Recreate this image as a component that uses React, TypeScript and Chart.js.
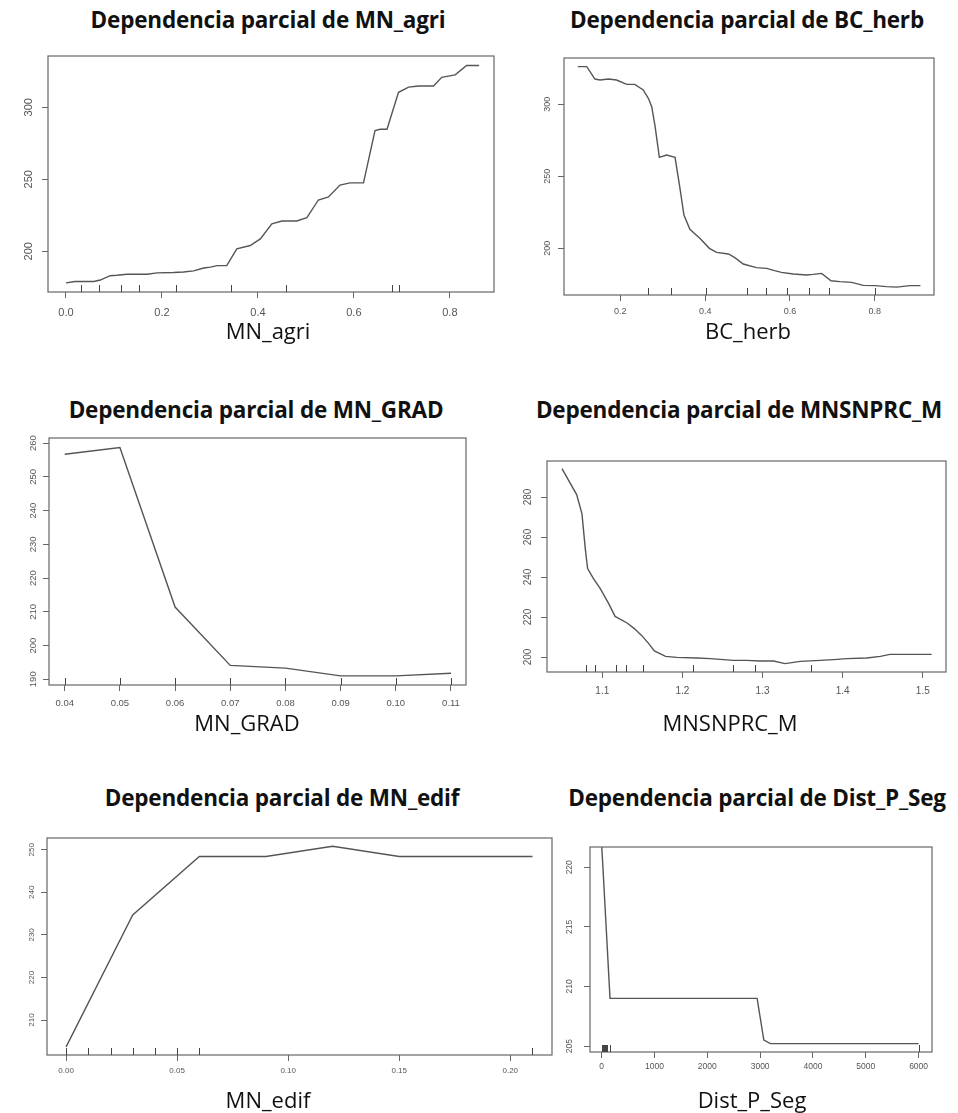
import React, { useEffect, useRef } from "react";
import { Chart, registerables } from "chart.js";

Chart.register(...registerables);

// ---------------- DATA ----------------
const mnAgriX = [0, 0.019, 0.058, 0.0715, 0.092, 0.106, 0.127, 0.169, 0.19, 0.224, 0.245, 0.266, 0.287, 0.301, 0.315, 0.335, 0.356, 0.384, 0.405, 0.429, 0.45, 0.481, 0.502, 0.526, 0.547, 0.571, 0.592, 0.62, 0.644, 0.655, 0.669, 0.693, 0.714, 0.735, 0.766, 0.783, 0.811, 0.835, 0.861];
const mnAgriY = [178, 179, 179, 180, 183, 183.3, 184, 184, 185, 185.2, 185.6, 186.4, 188.4, 189, 190, 190, 201.6, 204, 208.6, 219, 221, 221, 223.4, 235.6, 237.7, 246, 247.5, 247.5, 283.8, 284.7, 284.7, 310.4, 314, 314.8, 314.8, 320.8, 322.5, 329, 329];
const mnAgriRug = [0.031, 0.069, 0.115, 0.153, 0.229, 0.344, 0.459, 0.679, 0.693];
const mnAgriXTicks = [0, 0.2, 0.4, 0.6, 0.8];
const mnAgriYTicks = [200, 250, 300];

const bcHerbX = [0.0995, 0.1207, 0.14, 0.152, 0.172, 0.191, 0.215, 0.234, 0.254, 0.266, 0.274, 0.282, 0.292, 0.309, 0.329, 0.34, 0.35, 0.364, 0.388, 0.41, 0.427, 0.455, 0.47, 0.49, 0.521, 0.545, 0.564, 0.58, 0.608, 0.639, 0.655, 0.675, 0.697, 0.718, 0.746, 0.773, 0.801, 0.828, 0.852, 0.883, 0.908];
const bcHerbY = [326.2, 326.2, 317.6, 316.9, 317.6, 316.9, 313.9, 313.9, 310, 304.2, 298.4, 284.5, 263.2, 264.8, 263.2, 242.8, 223.1, 213.2, 206.9, 200, 197.2, 196.1, 193.5, 189.1, 186.6, 186.1, 184.5, 183.3, 182.2, 181.5, 181.9, 182.6, 177.5, 176.9, 176.4, 174.3, 174.1, 173.4, 173.1, 174.1, 174.1];
const bcHerbRug = [0.266, 0.319, 0.402, 0.498, 0.544, 0.593, 0.645, 0.693, 0.8];
const bcHerbXTicks = [0.2, 0.4, 0.6, 0.8];
const bcHerbYTicks = [200, 250, 300];

const mnGradX = [0.04, 0.05, 0.06, 0.07, 0.08, 0.09, 0.1, 0.11];
const mnGradY = [256.7, 258.7, 211.4, 194.1, 193.3, 191.0, 191.0, 191.8];
const mnGradRug = [0.04, 0.05, 0.06, 0.07, 0.08, 0.09, 0.1, 0.11];
const mnGradXTicks = [0.04, 0.05, 0.06, 0.07, 0.08, 0.09, 0.1, 0.11];
const mnGradYTicks = [190, 200, 210, 220, 230, 240, 250, 260];

const mnsnprcX = [1.0497, 1.068, 1.0746, 1.079, 1.0817, 1.089, 1.0975, 1.108, 1.116, 1.131, 1.14, 1.149, 1.158, 1.165, 1.179, 1.193, 1.218, 1.235, 1.251, 1.264, 1.28, 1.297, 1.314, 1.328, 1.347, 1.372, 1.389, 1.405, 1.43, 1.447, 1.459, 1.48, 1.511];
const mnsnprcY = [294.2, 281.2, 271.7, 253.3, 244.2, 239.2, 234.2, 226.7, 220.3, 217, 214.2, 210.8, 206.7, 203, 200.3, 199.8, 199.5, 199.2, 198.7, 198.3, 198.3, 198, 198, 196.7, 197.8, 198.3, 198.7, 199.2, 199.5, 200.3, 201.3, 201.3, 201.3];
const mnsnprcRug = [1.08, 1.091, 1.117, 1.13, 1.151, 1.213, 1.263, 1.291, 1.36];
const mnsnprcXTicks = [1.1, 1.2, 1.3, 1.4, 1.5];
const mnsnprcYTicks = [200, 220, 240, 260, 280];

const mnEdifX = [0, 0.03, 0.06, 0.09, 0.12, 0.15, 0.21];
const mnEdifY = [203.7, 234.7, 248.4, 248.4, 250.8, 248.4, 248.4];
const mnEdifRug = [0, 0.01, 0.02, 0.03, 0.04, 0.05, 0.06, 0.21];
const mnEdifXTicks = [0, 0.05, 0.1, 0.15, 0.2];
const mnEdifYTicks = [210, 220, 230, 240, 250];

const distX = [0, 20, 158, 2943, 3070, 3196, 6000];
const distY = [221.8, 220.3, 209.0, 209.0, 205.5, 205.2, 205.2];
const distRug = [0, 15, 30, 50, 70, 90, 110, 150, 6000];
const distXTicks = [0, 1000, 2000, 3000, 4000, 5000, 6000];
const distYTicks = [205, 210, 215, 220];

// ---------------- LAYOUT ----------------
type Panel = {
  title: string; tcx: number; tcy: number;
  xlab: string; lcx: number; lcy: number;
  xs: number[]; ys: number[]; rug: number[];
  xt: number[]; yt: number[]; xdec: number;
  box: { l: number; t: number; r: number; b: number };
  xr: [number, number]; yr: [number, number];
  fs: number; ylOff: number; xlOff: number;
};

const panels: Panel[] = [
  { title: "Dependencia parcial de MN_agri", tcx: 268, tcy: 19, xlab: "MN_agri", lcx: 268, lcy: 330,
    xs: mnAgriX, ys: mnAgriY, rug: mnAgriRug, xt: mnAgriXTicks, yt: mnAgriYTicks, xdec: 1,
    box: { l: 48, t: 56, r: 494, b: 292 }, xr: [-0.0375, 0.892], yr: [171.7, 335.6], fs: 11, ylOff: 19, xlOff: 21 },
  { title: "Dependencia parcial de BC_herb", tcx: 747, tcy: 19, xlab: "BC_herb", lcx: 748, lcy: 330,
    xs: bcHerbX, ys: bcHerbY, rug: bcHerbRug, xt: bcHerbXTicks, yt: bcHerbYTicks, xdec: 1,
    box: { l: 564, t: 58, r: 934, b: 295 }, xr: [0.067, 0.94], yr: [167.6, 332.2], fs: 9, ylOff: 16, xlOff: 17 },
  { title: "Dependencia parcial de MN_GRAD", tcx: 256, tcy: 409, xlab: "MN_GRAD", lcx: 247, lcy: 722,
    xs: mnGradX, ys: mnGradY, rug: mnGradRug, xt: mnGradXTicks, yt: mnGradYTicks, xdec: 2,
    box: { l: 49, t: 438, r: 466, b: 685 }, xr: [0.03715, 0.11272], yr: [188.3, 261.5], fs: 9.5, ylOff: 16, xlOff: 18 },
  { title: "Dependencia parcial de MNSNPRC_M", tcx: 739, tcy: 409, xlab: "MNSNPRC_M", lcx: 730, lcy: 722,
    xs: mnsnprcX, ys: mnsnprcY, rug: mnsnprcRug, xt: mnsnprcXTicks, yt: mnsnprcYTicks, xdec: 1,
    box: { l: 547, t: 461, r: 946, b: 672 }, xr: [1.031, 1.529], yr: [192.5, 298], fs: 10, ylOff: 19, xlOff: 19 },
  { title: "Dependencia parcial de MN_edif", tcx: 282, tcy: 797, xlab: "MN_edif", lcx: 268, lcy: 1099,
    xs: mnEdifX, ys: mnEdifY, rug: mnEdifRug, xt: mnEdifXTicks, yt: mnEdifYTicks, xdec: 2,
    box: { l: 47, t: 838, r: 552, b: 1055 }, xr: [-0.0086, 0.2188], yr: [201.8, 252.75], fs: 8, ylOff: 15, xlOff: 16 },
  { title: "Dependencia parcial de Dist_P_Seg", tcx: 757, tcy: 797, xlab: "Dist_P_Seg", lcx: 752, lcy: 1099,
    xs: distX, ys: distY, rug: distRug, xt: distXTicks, yt: distYTicks, xdec: 0,
    box: { l: 590, t: 847, r: 932, b: 1052 }, xr: [-221, 6254], yr: [204.5, 221.7], fs: 8.5, ylOff: 20, xlOff: 15 },
];

const TICK = 6;
const RUG = 7;
const INK = "#555555";

function PanelChart({ p }: { p: Panel }) {
  const ref = useRef<HTMLCanvasElement | null>(null);
  const padL = 45, padT = 6, YW = 30, XH = 34;
  const cx = p.box.l - padL;
  const cy = p.box.t - padT;
  const cw = p.box.r - p.box.l + padL + 14;
  const ch = p.box.b - p.box.t + padT + XH + 6;

  useEffect(() => {
    const canvas = ref.current!;
    const rPlot = {
      id: "rplot",
      afterDraw(chart: any) {
        const ctx = chart.ctx;
        const ca = chart.chartArea;
        const xs = chart.scales.x;
        const ys = chart.scales.y;
        ctx.save();
        ctx.strokeStyle = "#666666";
        ctx.lineWidth = 1.2;
        ctx.strokeRect(ca.left, ca.top, ca.right - ca.left, ca.bottom - ca.top);
        ctx.strokeStyle = "#444444";
        ctx.lineWidth = 1;
        for (const v of p.rug) {
          const px = Math.round(xs.getPixelForValue(v)) + 0.5;
          ctx.beginPath();
          ctx.moveTo(px, ca.bottom);
          ctx.lineTo(px, ca.bottom - RUG);
          ctx.stroke();
        }
        ctx.fillStyle = "#555555";
        ctx.font = `${p.fs}px "Liberation Sans", Arial, sans-serif`;
        ctx.textAlign = "center";
        ctx.textBaseline = "middle";
        for (const t of ys.ticks) {
          const py = ys.getPixelForValue(t.value);
          ctx.save();
          ctx.translate(ca.left - p.ylOff, py);
          ctx.rotate(-Math.PI / 2);
          ctx.fillText(String(t.value), 0, 0);
          ctx.restore();
        }
        ctx.restore();
      },
    };

    const chart = new Chart(canvas, {
      type: "line",
      data: {
        datasets: [
          {
            data: p.xs.map((x, i) => ({ x, y: p.ys[i] })),
            borderColor: INK,
            borderWidth: 1.4,
            pointRadius: 0,
            tension: 0,
            fill: false,
          },
        ],
      },
      options: {
        responsive: false,
        animation: false,
        events: [],
        layout: {
          padding: {
            left: padL - YW,
            top: padT,
            right: cw - padL - (p.box.r - p.box.l),
            bottom: ch - padT - (p.box.b - p.box.t) - XH,
          },
        },
        plugins: { legend: { display: false }, tooltip: { enabled: false }, title: { display: false } },
        scales: {
          x: {
            type: "linear",
            min: p.xr[0],
            max: p.xr[1],
            afterBuildTicks: (s: any) => { s.ticks = p.xt.map((v) => ({ value: v })); },
            afterFit: (s: any) => { s.height = XH; },
            grid: { drawOnChartArea: false, drawTicks: true, tickLength: TICK, color: "#666666", lineWidth: 1 },
            border: { display: false },
            ticks: {
              autoSkip: false,
              maxRotation: 0,
              minRotation: 0,
              color: "#555555",
              padding: Math.max(0, p.xlOff - TICK - p.fs * 0.6),
              font: { family: '"Liberation Sans", Arial, sans-serif', size: p.fs },
              callback: (v: any) => Number(v).toFixed(p.xdec),
            },
          },
          y: {
            type: "linear",
            min: p.yr[0],
            max: p.yr[1],
            afterBuildTicks: (s: any) => { s.ticks = p.yt.map((v) => ({ value: v })); },
            afterFit: (s: any) => { s.width = YW; },
            grid: { drawOnChartArea: false, drawTicks: true, tickLength: TICK, color: "#666666", lineWidth: 1 },
            border: { display: false },
            ticks: { display: false },
          },
        },
      },
      plugins: [rPlot],
    } as any);
    return () => chart.destroy();
  }, []);

  return (
    <canvas
      ref={ref}
      width={cw}
      height={ch}
      style={{ position: "absolute", left: cx, top: cy, width: cw, height: ch }}
    />
  );
}

const titleFont = '"Open Sans", "Noto Sans", sans-serif';

export default function App() {
  return (
    <div style={{ position: "absolute", left: 0, top: 0, width: 958, height: 1113, background: "#ffffff", overflow: "hidden" }}>
      {panels.map((p, i) => (
        <React.Fragment key={i}>
          <PanelChart p={p} />
          <div
            style={{
              position: "absolute", left: p.tcx, top: p.tcy, transform: "translate(-50%, -50%)",
              whiteSpace: "nowrap", fontFamily: titleFont, fontWeight: 700, fontSize: 22.5, color: "#111111",
              letterSpacing: -0.2,
            }}
          >
            {p.title}
          </div>
          <div
            style={{
              position: "absolute", left: p.lcx, top: p.lcy, transform: "translate(-50%, -50%)",
              whiteSpace: "nowrap", fontFamily: titleFont, fontWeight: 400, fontSize: 22, color: "#111111",
            }}
          >
            {p.xlab}
          </div>
        </React.Fragment>
      ))}
    </div>
  );
}
